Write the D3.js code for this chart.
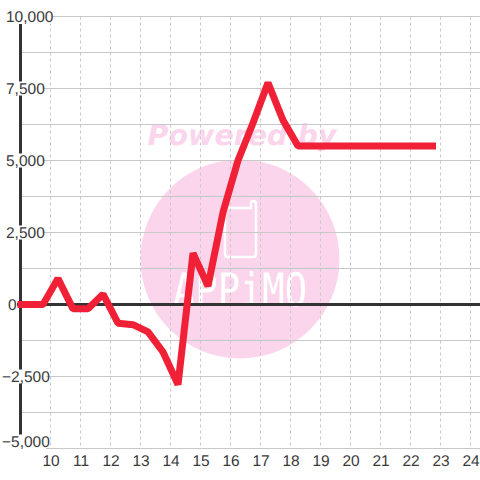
<!DOCTYPE html>
<html lang="en">

<head>
  <meta charset="utf-8">
  <title>Line chart</title>
  <script type="text/javascript" src="https://d3js.org/d3.v7.min.js"></script>
  <style type="text/css">
    html, body { margin: 0; padding: 0; background: #fff; }
    svg { display: block; }
    text { font-family: "Liberation Sans", sans-serif; text-rendering: geometricPrecision; }
  </style>
</head>

<body>
  <script type="text/javascript">

    //Values
    const hours = [8.9, 9.75, 10.25, 10.75, 11.25, 11.75, 12.25, 12.75, 13.25, 13.75, 14.25, 14.75, 15.25, 15.75, 16.25, 16.75, 17.25, 17.75, 18.25, 18.75, 19.25, 19.75, 20.25, 20.75, 21.25, 21.75, 22.25, 22.85];
    const values = [0, 0, 900, -150, -150, 360, -650, -700, -950, -1650, -2780, 1780, 640, 3200, 5000, 6300, 7700, 6400, 5500, 5500, 5500, 5500, 5500, 5500, 5500, 5500, 5500, 5500];
    const xTicks = [10, 11, 12, 13, 14, 15, 16, 17, 18, 19, 20, 21, 22, 23, 24];
    const yTicks = [10000, 7500, 5000, 2500, 0, -2500, -5000];
    const yMinorTicks = [8750, 6250, 3750, 1250, -1250, -3750];

    const width = 480, height = 480;

    const x = d3.scaleLinear().domain([10, 24]).range([50.5, 470.5]);
    const y = d3.scaleLinear().domain([-5000, 10000]).range([448.5, 16.5]);

    const svg = d3.select('body').append('svg')
      .attr('width', width)
      .attr('height', height);

    //Watermark sits under the grid
    const mark = svg.append('g');
    mark.append('circle')
      .attr('cx', 240).attr('cy', 259).attr('r', 99.5)
      .attr('fill', '#fbd5ec');
    mark.append('text')
      .attr('x', 242).attr('y', 144.5)
      .attr('text-anchor', 'middle')
      .style('font-family', '"DejaVu Sans"')
      .style('font-weight', 'bold')
      .style('font-style', 'italic')
      .style('font-size', '28.5px')
      .attr('fill', '#fbd5ec')
      .text('Powered by');
    mark.append('path')
      .attr('d', 'M225 214v40q0 3 3 3h25q3 0 3-3v-50q0-3-2.5-3t-2.5 3v4h-23q-3 0-3 3z')
      .attr('fill', 'none')
      .attr('stroke', '#fff')
      .attr('stroke-width', 2.5);
    mark.append('text')
      .attr('x', 173).attr('y', 306)
      .attr('textLength', 134)
      .attr('lengthAdjust', 'spacingAndGlyphs')
      .style('font-family', '"DejaVu Sans Mono"')
      .style('font-size', '46px')
      .attr('fill', '#fff')
      .text('APPiMO');

    //Grid
    const grid = svg.append('g');
    grid.selectAll('.h')
      .data(yTicks.concat(yMinorTicks))
      .enter().append('line')
      .attr('x1', 20).attr('x2', width)
      .attr('y1', d => y(d)).attr('y2', d => y(d))
      .attr('stroke', '#c8c8c8');
    grid.selectAll('.v')
      .data(xTicks)
      .enter().append('line')
      .attr('x1', d => x(d)).attr('x2', d => x(d))
      .attr('y1', y(10000)).attr('y2', y(-5000))
      .attr('stroke', '#c8c8c8')
      .attr('stroke-dasharray', '3,3');

    //Axis lines
    svg.append('line')
      .attr('x1', 20.5).attr('x2', 20.5)
      .attr('y1', 24).attr('y2', 437)
      .attr('stroke', '#333').attr('stroke-width', 3);
    svg.append('line')
      .attr('x1', 17).attr('x2', width)
      .attr('y1', y(0)).attr('y2', y(0))
      .attr('stroke', '#333').attr('stroke-width', 3);

    //Y labels, each on a white patch that cuts the axis and the grid
    const yLabel = d3.format(',');
    //the bottom label is pushed up to stay above the x labels
    const labelMid = d => d == -5000 ? y(d) - 7 : y(d);
    const yLabels = svg.append('g').selectAll('g')
      .data(yTicks)
      .enter().append('g');
    yLabels.filter(d => d != 0).append('rect')
      .attr('x', d => d < 0 ? 2 : 5)
      .attr('y', d => labelMid(d) - 7)
      .attr('width', d => d == 10000 ? 48 : (d < 0 ? 44 : 39))
      .attr('height', d => d == -5000 ? 15 : 14)
      .attr('fill', '#fff');
    yLabels.append('text')
      .attr('x', d => d < 0 ? 2 : (d == 0 ? 8 : 6))
      .attr('y', d => labelMid(d) + 5.5)
      .style('font-size', '15.5px')
      .attr('fill', '#3a3a3a')
      .text(d => yLabel(d));

    //X labels
    svg.append('g').selectAll('text')
      .data(xTicks)
      .enter().append('text')
      .attr('x', d => x(d) + 0.5)
      .attr('y', 466)
      .attr('text-anchor', 'middle')
      .style('font-size', '15.5px')
      .attr('fill', '#3a3a3a')
      .text(d => d);

    //Series
    const line = d3.line()
      .x((d, i) => x(hours[i]))
      .y(d => y(d));

    svg.append('path')
      .datum(values)
      .attr('d', line)
      .attr('fill', 'none')
      .attr('stroke', '#f02036')
      .attr('stroke-width', 7)
      .attr('stroke-linejoin', 'bevel');

  </script>
</body>

</html>
